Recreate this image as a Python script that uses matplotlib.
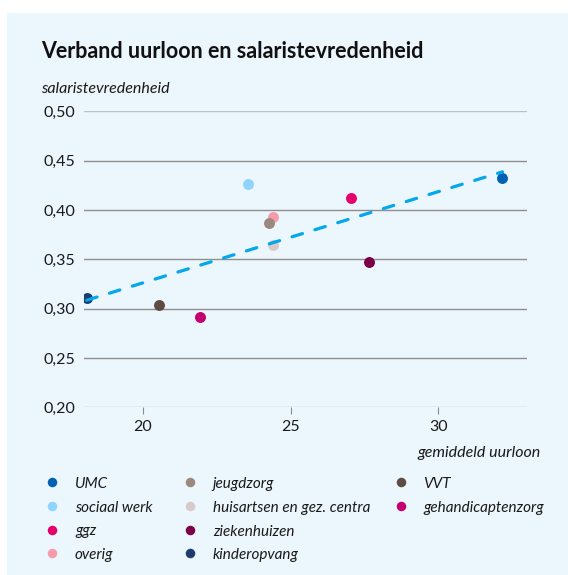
import numpy as np
import matplotlib
matplotlib.use('Agg')
import matplotlib.pyplot as plt
from matplotlib.patches import Rectangle

plt.rcParams['font.family'] = ['Lato', 'DejaVu Sans']
plt.rcParams['lines.scale_dashes'] = False

# data
sectoren = ['UMC', 'sociaal werk', 'ggz', 'overig', 'jeugdzorg',
            'huisartsen en gez. centra', 'ziekenhuizen', 'kinderopvang',
            'VVT', 'gehandicaptenzorg']
uurloon = [32.18, 23.54, 27.03, 24.42, 24.27, 24.41, 27.66, 18.09, 20.53, 21.92]
tevredenheid = [0.432, 0.426, 0.412, 0.393, 0.387, 0.365, 0.347, 0.311, 0.3035, 0.292]
kleuren = ['#0162b3', '#8fd4fc', '#e6006e', '#f59bab', '#9c887f',
           '#d8cac8', '#7b0047', '#1c3b6e', '#5e4b44', '#c2006f']

y_ticks = [0.20, 0.25, 0.30, 0.35, 0.40, 0.45, 0.50]
y_labels = ['0,20', '0,25', '0,30', '0,35', '0,40', '0,45', '0,50']
x_ticks = [20, 25, 30]

W, H = 568, 575
fig = plt.figure(figsize=(W / 100, H / 100), dpi=100)

# achtergrond + legenda in pixel-coordinaten
canvas = fig.add_axes([0, 0, 1, 1], zorder=-1)
canvas.set_xlim(0, W)
canvas.set_ylim(H, 0)
canvas.axis('off')
canvas.add_patch(Rectangle((7, 13), W - 7, H - 13, facecolor='#ecf6fd', edgecolor='none'))

ax = fig.add_axes([84 / W, 1 - 407.3 / H, (526.7 - 84) / W, (407.3 - 111.3) / H])
ax.patch.set_alpha(0)
for s in ax.spines.values():
    s.set_visible(False)
ax.set_xlim(18, 33)
ax.set_ylim(0.2, 0.5)
ax.set_yticks(y_ticks)
ax.set_yticklabels(y_labels)
ax.set_xticks(x_ticks)
ax.tick_params(axis='y', length=0, pad=6.5, labelsize=11.5, labelcolor='#1a1a1a')
ax.tick_params(axis='x', length=5, width=0.8, color='#8c8c8c', pad=4, labelsize=11.5, labelcolor='#1a1a1a')
for yv in y_ticks:
    c = '#b9c0c7' if yv in (0.2, 0.5) else '#8f8f8f'
    ax.axhline(yv, color=c, lw=1, zorder=1)

for x, y, c in zip(uurloon, tevredenheid, kleuren):
    ax.scatter(x, y, s=62, color=c, linewidths=0, zorder=3)

# trendlijn
coef = np.polyfit(uurloon, tevredenheid, 1)
xs = np.array([min(uurloon), max(uurloon)])
ax.plot(xs, np.polyval(coef, xs), color='#02a8eb', lw=2.3, dashes=(7.8, 9.4),
        dash_capstyle='round', zorder=4)

canvas.text(41, 58.5, 'Verband uurloon en salaristevredenheid', fontsize=15.5,
            fontweight='bold', va='baseline', color='#111111')
canvas.text(41.5, 93, 'salaristevredenheid', style='italic', fontsize=11.5,
            va='baseline', color='#1a1a1a')
canvas.text(541, 457, 'gemiddeld uurloon', style='italic', fontsize=11.5,
            ha='right', va='baseline', color='#1a1a1a')

# legenda
mx = [52.3, 190, 400.7]
tx = [75, 212.7, 423.3]
for i, (naam, c) in enumerate(zip(sectoren, kleuren)):
    col, row = i // 4, i % 4
    yy = 482.3 + row * 23.7
    canvas.scatter(mx[col], yy, s=47, color=c, linewidths=0)
    canvas.text(tx[col], yy + 5.8, naam, style='italic', fontsize=11,
                va='baseline', color='#1a1a1a')

fig.savefig('out.png', dpi=100)
